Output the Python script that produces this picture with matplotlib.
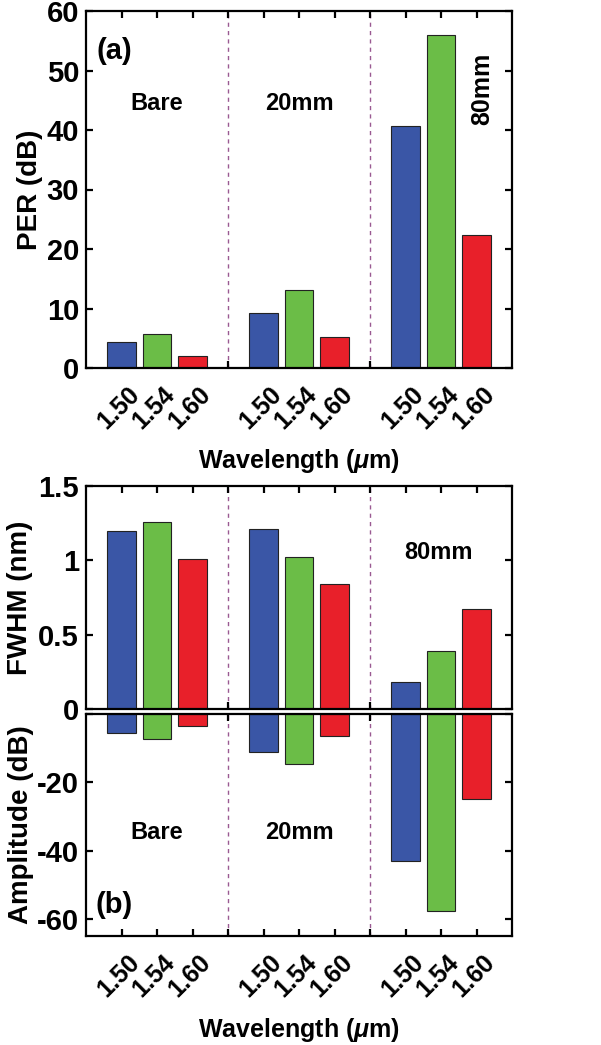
import matplotlib
matplotlib.use("Agg")
import matplotlib.pyplot as plt
from matplotlib.ticker import FuncFormatter
from matplotlib.transforms import ScaledTranslation

# ---- data -------------------------------------------------------------
groups = ["Bare", "20mm", "80mm"]
wavelengths = ["1.50", "1.54", "1.60"]
bar_colors = ["#3a56a6", "#6bbd47", "#e8202a"]

per_db = {
    "Bare": [4.4, 5.7, 2.0],
    "20mm": [9.3, 13.1, 5.2],
    "80mm": [40.7, 56.0, 22.3],
}
fwhm_nm = {
    "Bare": [1.20, 1.26, 1.01],
    "20mm": [1.21, 1.02, 0.84],
    "80mm": [0.18, 0.39, 0.67],
}
amplitude_db = {
    "Bare": [-5.7, -7.4, -3.5],
    "20mm": [-11.0, -14.6, -6.3],
    "80mm": [-43.1, -57.8, -24.8],
}

# ---- style ------------------------------------------------------------
plt.rcParams["font.family"] = ["Liberation Sans", "DejaVu Sans"]
plt.rcParams["font.weight"] = "bold"
plt.rcParams["axes.labelweight"] = "bold"
plt.rcParams["axes.unicode_minus"] = False
plt.rcParams["mathtext.fontset"] = "custom"
plt.rcParams["mathtext.rm"] = "Liberation Sans:bold"
plt.rcParams["mathtext.it"] = "Liberation Sans:italic:bold"

SPINE_W = 1.6
DASH_COLOR = "#9a5a92"
YLABEL_SIZE = 20
YTICK_SIZE = 21
XTICK_SIZE = 18

fig = plt.figure(figsize=(6.01, 10.45), dpi=100)

L, W = 86 / 601, 426 / 601
def box(top_px, bot_px):
    return [L, 1 - bot_px / 1045, W, (bot_px - top_px) / 1045]

ax_per = fig.add_axes(box(11, 368))
ax_fw = fig.add_axes(box(486, 709))
ax_amp = fig.add_axes(box(714, 936))

# bar positions: three groups of three, separated by an empty slot
positions = []
for g in range(len(groups)):
    positions.append([4 * g + 1 + k for k in range(len(wavelengths))])
tick_pos = list(range(1, 12))
tick_lab = []
for t in tick_pos:
    if t % 4 == 0:
        tick_lab.append("")
    else:
        tick_lab.append(wavelengths[(t % 4) - 1])

label_shift = ScaledTranslation(-3 / 100, 0, fig.dpi_scale_trans)


def draw_bars(ax, data):
    for g, name in enumerate(groups):
        ax.bar(positions[g], data[name], width=0.8, color=bar_colors,
               edgecolor="#222222", linewidth=0.8, zorder=2)


def style_axis(ax, show_xlabels):
    ax.set_xlim(0, 12)
    ax.set_xticks(tick_pos)
    ax.tick_params(direction="in", top=True, right=True, length=5,
                   width=1.6, labelsize=YTICK_SIZE, pad=5)
    if show_xlabels:
        ax.set_xticklabels(tick_lab, rotation=45, ha="center",
                           fontsize=XTICK_SIZE)
        ax.tick_params(axis="x", pad=10)
        for lab in ax.get_xticklabels():
            lab.set_transform(lab.get_transform() + label_shift)
    else:
        ax.set_xticklabels([])
    for s in ax.spines.values():
        s.set_linewidth(SPINE_W)
    for xv in (4, 8):
        ax.axvline(xv, color=DASH_COLOR, lw=1.0, ls=(0, (3, 3)), zorder=1)


# (a) PER
draw_bars(ax_per, per_db)
style_axis(ax_per, True)
ax_per.set_ylim(0, 60)
ax_per.set_yticks([0, 10, 20, 30, 40, 50, 60])
ax_per.set_ylabel("PER (dB)", fontsize=YLABEL_SIZE)
ax_per.yaxis.set_label_coords(-0.1, 0.5)
ax_per.set_xlabel(r"Wavelength ($\mu$m)", fontsize=18, va="top")
ax_per.xaxis.set_label_coords(0.5, -0.22)
ax_per.text(0.8, 53.3, "(a)", fontsize=21, ha="center", va="center")
ax_per.text(2, 44.5, "Bare", fontsize=17, ha="center", va="center")
ax_per.text(6, 44.5, "20mm", fontsize=17, ha="center", va="center")
ax_per.text(11.15, 46.9, "80mm", fontsize=18, ha="center", va="center",
            rotation=90)

# (b) FWHM
draw_bars(ax_fw, fwhm_nm)
style_axis(ax_fw, False)
ax_fw.set_ylim(0, 1.5)
ax_fw.set_yticks([0, 0.5, 1, 1.5])
ax_fw.yaxis.set_major_formatter(FuncFormatter(lambda v, p: f"{v:g}"))
ax_fw.set_ylabel("FWHM (nm)", fontsize=YLABEL_SIZE)
ax_fw.yaxis.set_label_coords(-0.125, 0.5)
ax_fw.text(9.94, 1.056, "80mm", fontsize=17, ha="center", va="center")

# (b) amplitude
draw_bars(ax_amp, amplitude_db)
style_axis(ax_amp, True)
ax_amp.set_ylim(-65, 0)
ax_amp.set_yticks([-60, -40, -20, 0])
ax_amp.set_yticklabels(["-60", "-40", "-20", ""])
ax_amp.set_ylabel("Amplitude (dB)", fontsize=YLABEL_SIZE)
ax_amp.yaxis.set_label_coords(-0.122, 0.5)
ax_amp.set_xlabel(r"Wavelength ($\mu$m)", fontsize=18, va="top")
ax_amp.xaxis.set_label_coords(0.5, -0.36)
ax_amp.text(0.8, -55.8, "(b)", fontsize=21, ha="center", va="center")
ax_amp.text(2, -34.7, "Bare", fontsize=17, ha="center", va="center")
ax_amp.text(6, -34.7, "20mm", fontsize=17, ha="center", va="center")

fig.savefig("out.png", dpi=100)
